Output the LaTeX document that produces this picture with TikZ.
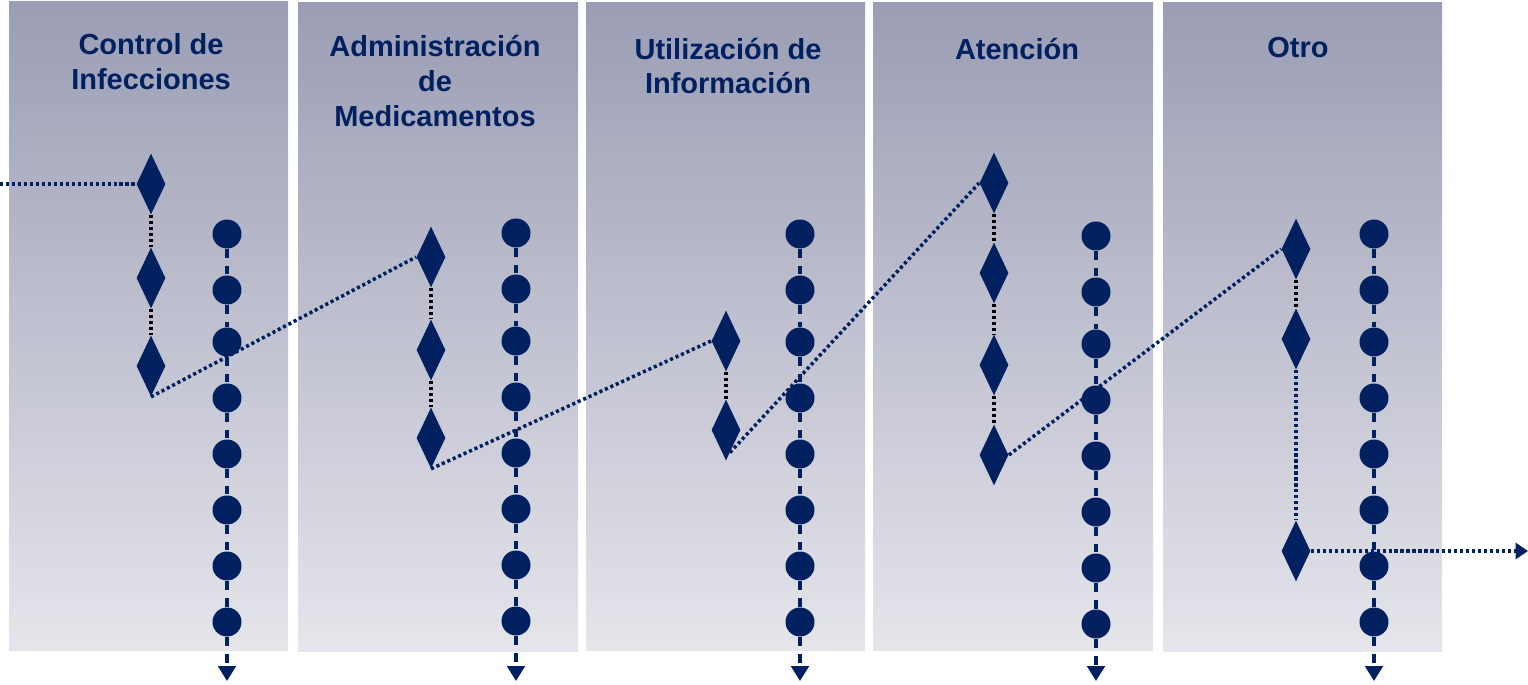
\documentclass[tikz,border=0pt]{standalone}
\usepackage{fontspec}
\setmainfont{Liberation Sans}
\usetikzlibrary{shapes.geometric, arrows.meta}

\definecolor{navy}{RGB}{0,32,96}
\definecolor{laneTop}{RGB}{154,157,180}
\definecolor{laneBot}{RGB}{229,229,235}

\begin{document}
\begin{tikzpicture}[x=0.02cm, y=-0.02cm,
  lane/.style={top color=laneTop, bottom color=laneBot, draw=none},
  title/.style={text=navy, font=\fontsize{16.5}{19.8}\selectfont\bfseries, align=center},
  dia/.style={diamond, fill=navy, inner sep=0pt, minimum width=0.58cm, minimum height=1.22cm},
  dot/.style={circle, fill=navy, inner sep=0pt, minimum size=0.58cm},
  chain/.style={black, line width=2pt, dash pattern=on 1.8pt off 1.6pt},
  hop/.style={navy, line width=2pt, dash pattern=on 1.8pt off 1.6pt},
  track/.style={navy, line width=1.9pt, dash pattern=on 5pt off 4.6pt}]

\useasboundingbox (0,0) rectangle (1528,685);

% swimlanes
\shade[lane] (9,2) rectangle (288,650);
\shade[lane] (298,3) rectangle (578,651);
\shade[lane] (586,3) rectangle (865,650);
\shade[lane] (873,3) rectangle (1153,650);
\shade[lane] (1163,3) rectangle (1442,651);

\node[title] (t1) at (151,62) {Control de\\Infecciones};
\node[title] (t2) at (435,81) {Administración\\de\\Medicamentos};
\node[title] (t3) at (728,66) {Utilización de\\Información};
\node[title] (t4) at (1017,49) {Atención};
\node[title] (t5) at (1298,48) {Otro};

% timeline of each lane
\foreach \c/\x/\s in {1/227/0, 2/516/-1, 3/800/0, 4/1096/2, 5/1374/0} {
  \foreach \y [count=\i] in {234,290,342,398,454,510,566,622}
    \node[dot] (p\c-\i) at (\x,\y+\s) {};
  \coordinate (end\c) at (\x,681);
  \foreach \i [count=\j from 2] in {1,...,7}
    \draw[track] (p\c-\i) -- (p\c-\j);
  \draw[track, -{Triangle[width=10pt,length=8.5pt]}] (p\c-8) -- (end\c);
}

% decisions
\node[dia] (c1d1) at (151,184) {};
\node[dia] (c1d2) at (151,278) {};
\node[dia] (c1d3) at (151,366) {};
\node[dia] (c2d1) at (431,257) {};
\node[dia] (c2d2) at (431,350) {};
\node[dia] (c2d3) at (431,438) {};
\node[dia] (c3d1) at (726,341) {};
\node[dia] (c3d2) at (726,430) {};
\node[dia] (c4d1) at (994,183) {};
\node[dia] (c4d2) at (994,273) {};
\node[dia] (c4d3) at (994,365) {};
\node[dia] (c4d4) at (994,455) {};
\node[dia] (c5d1) at (1296,249) {};
\node[dia] (c5d2) at (1296,339) {};
\node[dia] (c5d3) at (1296,551) {};

\coordinate (start) at (0,184);
\coordinate (finish) at (1528,551);

\draw[hop] (start) -- (c1d1);
\draw[chain] (c1d1) -- (c1d2);
\draw[chain] (c1d2) -- (c1d3);
\draw[hop] (c1d3.south) -- (c2d1.west);
\draw[chain] (c2d1) -- (c2d2);
\draw[chain] (c2d2) -- (c2d3);
\draw[hop] (c2d3.south) -- (c3d1.west);
\draw[chain] (c3d1) -- (c3d2);
\draw[hop] (c3d2.-80) -- (c4d1.west);
\draw[chain] (c4d1) -- (c4d2);
\draw[chain] (c4d2) -- (c4d3);
\draw[chain] (c4d3) -- (c4d4);
\draw[hop] (c4d4.east) -- (c5d1.west);
\draw[chain] (c5d1) -- (c5d2);
\draw[hop] (c5d2) -- (c5d3);
\draw[hop, -{Triangle[width=9pt,length=7pt]}] (c5d3) -- (finish);
\end{tikzpicture}
\end{document}
